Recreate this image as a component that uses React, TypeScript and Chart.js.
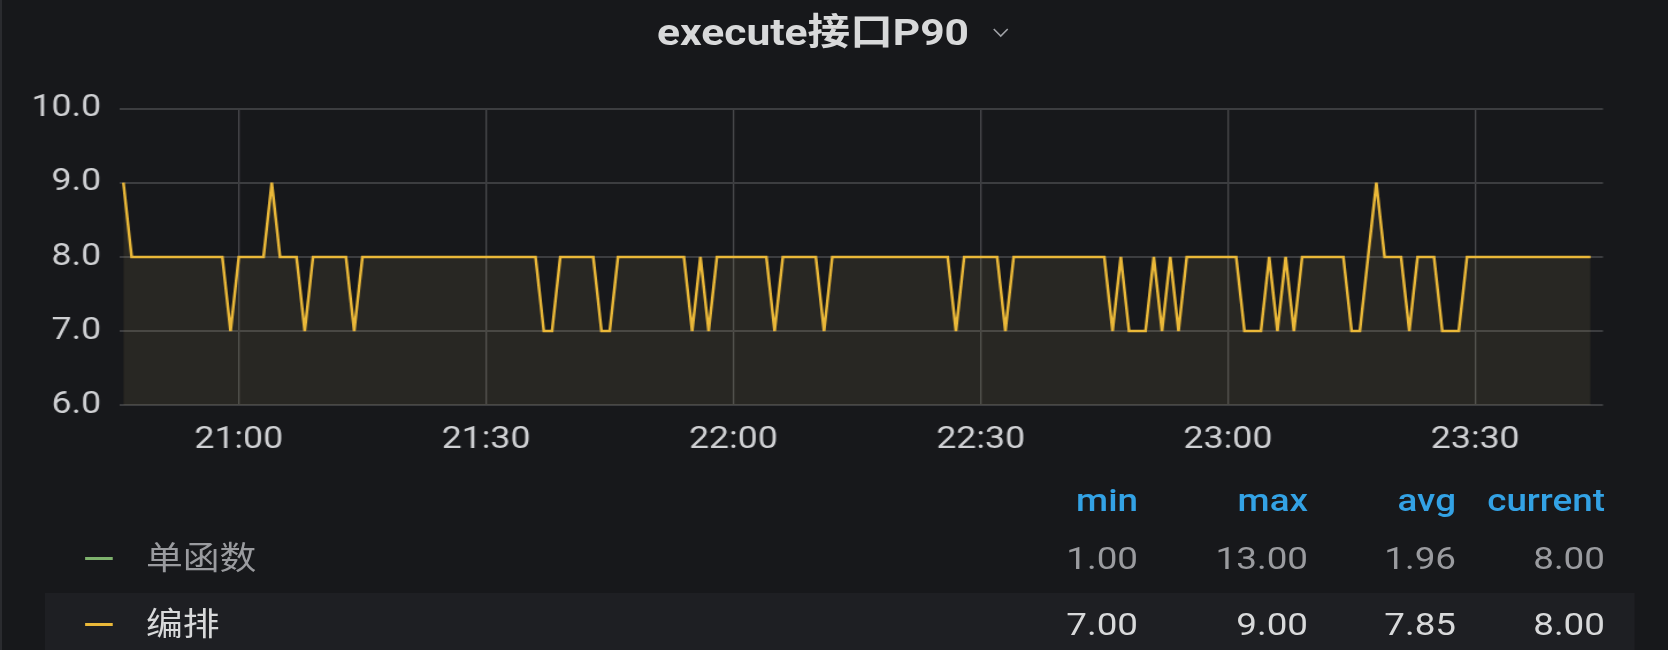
import React, { useEffect, useRef } from 'react';
import { Chart, registerables } from 'chart.js';

Chart.register(...registerables);

// ---- layout constants (reference is horizontally stretched) ----
const FULL_W = 1668;
const FULL_H = 650;
const W = 1450; // logical width, stretched to FULL_W via CSS
const K = FULL_W / W;

// ---- data ----
const panelTitle = 'execute接口P90';
const startTime = '20:46';
const stepMinutes = 1;

// 编排 P90 values, one per minute from 20:46 to 23:44
const seriesValues = [
  9, 8, 8, 8, 8, 8, 8, 8, 8, 8,
  8, 8, 8, 7, 8, 8, 8, 8, 9, 8,
  8, 8, 7, 8, 8, 8, 8, 8, 7, 8,
  8, 8, 8, 8, 8, 8, 8, 8, 8, 8,
  8, 8, 8, 8, 8, 8, 8, 8, 8, 8,
  8, 7, 7, 8, 8, 8, 8, 8, 7, 7,
  8, 8, 8, 8, 8, 8, 8, 8, 8, 7,
  8, 7, 8, 8, 8, 8, 8, 8, 8, 7,
  8, 8, 8, 8, 8, 7, 8, 8, 8, 8,
  8, 8, 8, 8, 8, 8, 8, 8, 8, 8,
  8, 7, 8, 8, 8, 8, 8, 7, 8, 8,
  8, 8, 8, 8, 8, 8, 8, 8, 8, 8,
  7, 8, 7, 7, 7, 8, 7, 8, 7, 8,
  8, 8, 8, 8, 8, 8, 7, 7, 7, 8,
  7, 8, 7, 8, 8, 8, 8, 8, 8, 7,
  7, 8, 9, 8, 8, 8, 7, 8, 8, 8,
  7, 7, 7, 8, 8, 8, 8, 8, 8, 8,
  8, 8, 8, 8, 8, 8, 8, 8, 8,
];

const xTickLabels = ['21:00', '21:30', '22:00', '22:30', '23:00', '23:30'];
const yMin = 6;
const yMax = 10;
const yStep = 1;

const legendHeaders = ['min', 'max', 'avg', 'current'];
const seriesNames = ['单函数', '编排'];
const seriesColors = ['#7EB26D', '#EAB839'];
const statsSingle = ['1.00', '13.00', '1.96', '8.00'];
const statsOrchestrate = ['7.00', '9.00', '7.85', '8.00'];

// ---- helpers ----
const toMin = (s: string) => {
  const [h, m] = s.split(':').map(Number);
  return h * 60 + m;
};
const xTickValues = xTickLabels.map((l) => (toMin(l) - toMin(startTime)) / stepMinutes);

const FONT = 'Roboto, "Noto Sans CJK SC", "DejaVu Sans", sans-serif';
const BG = '#17181b';

// full-coordinate -> logical x
const lx = (x: number) => x / K;

const CHART_H = 470;
const AREA_TOP = 108.5;
const AREA_BOTTOM = 405.3;
const AREA_LEFT = 120;
const AREA_RIGHT = 1603;

function LineChart() {
  const ref = useRef<HTMLCanvasElement | null>(null);
  useEffect(() => {
    if (!ref.current) return;
    const chart = new Chart(ref.current, {
      type: 'line',
      data: {
        datasets: [
          {
            label: seriesNames[1],
            data: seriesValues.map((v, i) => ({ x: i, y: v })),
            borderColor: seriesColors[1],
            backgroundColor: 'rgba(200,180,110,0.10)',
            fill: 'start',
            borderWidth: 2.5,
            pointRadius: 0,
            tension: 0,
          },
        ],
      },
      options: {
        animation: false,
        responsive: false,
        devicePixelRatio: 1,
        layout: {
          padding: { top: AREA_TOP, right: W - lx(AREA_RIGHT), left: 0, bottom: 0 },
        },
        plugins: {
          legend: { display: false },
          tooltip: { enabled: false },
          title: { display: false },
        },
        scales: {
          x: {
            type: 'linear',
            min: -0.41,
            max: 179.5,
            afterFit: (s: any) => {
              s.height = CHART_H - AREA_BOTTOM;
            },
            afterBuildTicks: (s: any) => {
              s.ticks = xTickValues.map((v) => ({ value: v }));
            },
            ticks: {
              autoSkip: false,
              maxRotation: 0,
              padding: 16,
              color: '#cfd0d3',
              font: { family: FONT, size: 31 },
              callback: (v: any) => {
                const idx = xTickValues.indexOf(Number(v));
                return idx >= 0 ? xTickLabels[idx] : '';
              },
            },
            grid: { color: '#4a4b4e', lineWidth: 1.3, drawTicks: false },
            border: { display: false },
          },
          y: {
            min: yMin,
            max: yMax,
            afterFit: (s: any) => {
              s.width = lx(AREA_LEFT);
            },
            ticks: {
              stepSize: yStep,
              padding: lx(AREA_LEFT - 101),
              color: '#cfd0d3',
              font: { family: FONT, size: 31 },
              callback: (v: any) => Number(v).toFixed(1),
            },
            grid: { color: '#3c3d40', lineWidth: 2, drawTicks: false },
            border: { display: false },
          },
        },
      },
    });
    return () => chart.destroy();
  }, []);
  return (
    <canvas
      ref={ref}
      width={W}
      height={CHART_H}
      style={{ position: 'absolute', left: 0, top: 0, width: W, height: CHART_H, display: 'block' }}
    />
  );
}

const textCell = (
  text: string,
  rightFull: number,
  centerY: number,
  color: string,
  weight = 400,
  key?: string
) => (
  <div
    key={key}
    style={{
      position: 'absolute',
      right: W - lx(rightFull),
      top: centerY - 20,
      height: 40,
      lineHeight: '40px',
      fontFamily: FONT,
      fontSize: 32,
      fontWeight: weight,
      color,
      whiteSpace: 'nowrap',
    }}
  >
    {text}
  </div>
);

export default function App() {
  const colRights = [1138, 1308, 1456, 1605];
  const rowY = [558, 624];
  const rowText = ['#9a9b9f', '#d8d9da'];
  const stats = [statsSingle, statsOrchestrate];
  return (
    <div style={{ position: 'fixed', left: 0, top: 0, width: FULL_W, height: FULL_H, background: BG, overflow: 'hidden' }}>
      <div style={{ position: 'absolute', left: 0, top: 0, width: 2, height: FULL_H, background: '#2a2b2f' }} />
      <div
        style={{
          position: 'absolute',
          left: 0,
          top: 0,
          width: W,
          height: FULL_H,
          transform: `scaleX(${K})`,
          transformOrigin: '0 0',
        }}
      >
        {/* title */}
        <div
          style={{
            position: 'absolute',
            left: 0,
            width: lx(813) * 2,
            top: 11,
            height: 44,
            lineHeight: '44px',
            textAlign: 'center',
            fontFamily: FONT,
            fontWeight: 700,
            fontSize: 37,
            color: '#d8d9da',
            whiteSpace: 'nowrap',
          }}
        >
          {panelTitle}
        </div>
        <svg
          style={{ position: 'absolute', left: lx(993), top: 27 }}
          width={lx(16)}
          height={12}
          viewBox="0 0 16 12"
          preserveAspectRatio="none"
        >
          <polyline points="1,2 8,9 15,2" fill="none" stroke="#9fa1a6" strokeWidth={1.6} />
        </svg>

        <LineChart />

        {/* legend table */}
        {legendHeaders.map((h, i) => textCell(h, colRights[i], 500, '#33a2e5', 500, 'h' + i))}
        <div
          style={{
            position: 'absolute',
            left: lx(45),
            width: lx(1635 - 45),
            top: 593,
            height: 57,
            background: '#1e1f23',
          }}
        />
        {seriesNames.map((name, r) => (
          <React.Fragment key={name}>
            <div
              style={{
                position: 'absolute',
                left: lx(85),
                width: lx(28),
                top: rowY[r] - 1.5,
                height: 3,
                background: seriesColors[r],
              }}
            />
            <div
              style={{
                position: 'absolute',
                left: lx(146),
                top: rowY[r] - 20,
                height: 40,
                lineHeight: '40px',
                fontFamily: FONT,
                fontSize: 32,
                color: rowText[r],
                whiteSpace: 'nowrap',
              }}
            >
              {name}
            </div>
            {stats[r].map((s, i) => textCell(s, colRights[i], rowY[r], rowText[r], 400, name + i))}
          </React.Fragment>
        ))}
      </div>
    </div>
  );
}
